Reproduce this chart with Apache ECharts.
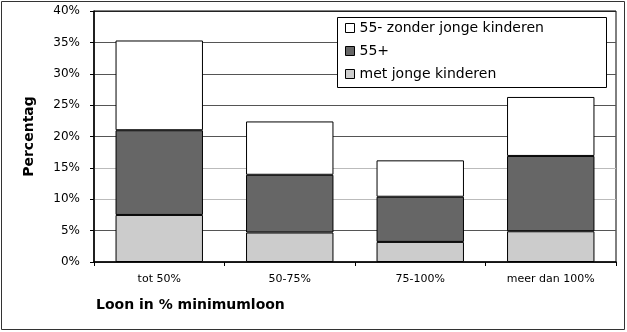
<!DOCTYPE html>
<html>
<head>
<meta charset="utf-8">
<script src="https://cdn.jsdelivr.net/npm/echarts@6/dist/echarts.min.js"></script>
<style>
  html, body { margin: 0; padding: 0; background: #fff; }
  #chart { width: 627px; height: 332px; }
</style>
</head>
<body>
<div id="chart"></div>
<script>
var categories = ['tot 50%', '50-75%', '75-100%', 'meer dan 100%'];
var metJongeKinderen = [7.5, 4.7, 3.2, 4.9];
var vijfenvijftigPlus = [13.5, 9.2, 7.2, 12.0];
var zonderJongeKinderen = [14.3, 8.5, 5.8, 9.4];
var yTicks = [0, 5, 10, 15, 20, 25, 30, 35, 40];

var chart = echarts.init(document.getElementById('chart'));
var font = 'DejaVu Sans, Verdana, sans-serif';

var option = {
    animation: false,
    textStyle: { fontFamily: font },
    graphic: [
        {
            type: 'rect',
            shape: { x: 1.5, y: 1.5, width: 623, height: 328 },
            style: { fill: 'none', stroke: '#333', lineWidth: 1 }
        },
        {
            type: 'rect',
            z: 50,
            shape: { x: 337.5, y: 17.5, width: 269, height: 70 },
            style: { fill: '#fff', stroke: '#000', lineWidth: 1 }
        }
    ],
    grid: {
        left: 94, right: 11, top: 11, bottom: 70,
        show: true, borderColor: '#000', borderWidth: 1, backgroundColor: 'transparent'
    },
    legend: {
        z: 60,
        orient: 'vertical',
        left: 341,
        top: 21,
        icon: 'rect',
        itemWidth: 9,
        itemHeight: 9,
        itemGap: 9,
        padding: [0, 0, 0, 4],
        data: ['55- zonder jonge kinderen', '55+', 'met jonge kinderen'],
        itemStyle: { borderColor: '#000', borderWidth: 1 },
        textStyle: { fontSize: 14, color: '#000', fontFamily: font }
    },
    xAxis: {
        type: 'category',
        data: categories,
        name: 'Loon in % minimumloon',
        nameLocation: 'start',
        nameGap: 0,
        nameTextStyle: {
            fontSize: 14, fontWeight: 'bold', color: '#000',
            align: 'left', verticalAlign: 'top',
            padding: [36, 0, 0, 2]
        },
        axisLine: { lineStyle: { color: '#000', width: 1.5 } },
        axisTick: { show: true, length: 4, lineStyle: { color: '#000' } },
        axisLabel: { color: '#000', fontSize: 11, margin: 12 }
    },
    yAxis: {
        type: 'value',
        min: yTicks[0],
        max: yTicks[yTicks.length - 1],
        interval: 5,
        name: 'Percentag',
        nameLocation: 'middle',
        nameGap: 58,
        nameTextStyle: { fontSize: 14, fontWeight: 'bold', color: '#000' },
        axisLine: { show: true, lineStyle: { color: '#000', width: 1.5 } },
        axisTick: { show: true, length: 4, lineStyle: { color: '#000' } },
        axisLabel: { color: '#000', fontSize: 12, margin: 14, formatter: '{value}%' },
        splitLine: {
            show: true,
            lineStyle: {
                color: ['#555', '#555', '#bbb', '#bbb', '#555', '#555', '#555', '#555', '#222'],
                width: 1
            }
        }
    },
    series: [
        {
            name: 'met jonge kinderen',
            type: 'bar',
            stack: 'tot',
            barWidth: '67%',
            data: metJongeKinderen,
            itemStyle: { color: '#cccccc', borderColor: '#000', borderWidth: 1 }
        },
        {
            name: '55+',
            type: 'bar',
            stack: 'tot',
            data: vijfenvijftigPlus,
            itemStyle: { color: '#666666', borderColor: '#000', borderWidth: 1 }
        },
        {
            name: '55- zonder jonge kinderen',
            type: 'bar',
            stack: 'tot',
            data: zonderJongeKinderen,
            itemStyle: { color: '#ffffff', borderColor: '#000', borderWidth: 1 }
        }
    ]
};
chart.setOption(option);
</script>
</body>
</html>
